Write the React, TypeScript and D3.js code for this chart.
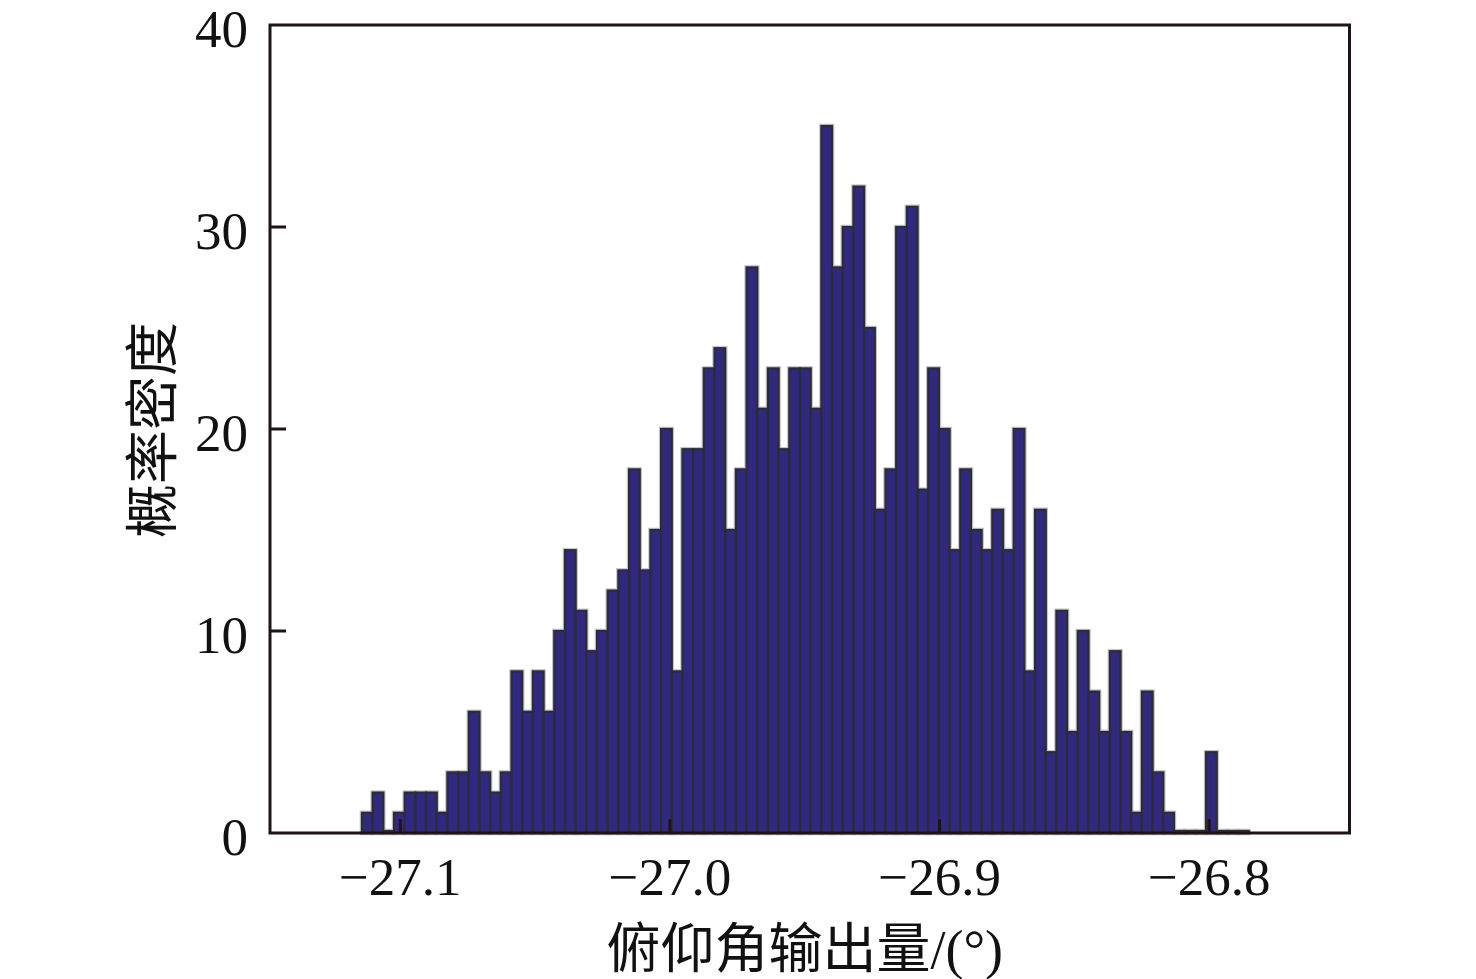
import * as d3 from "d3";

// histogram counts per bin, left to right
const counts = [
  1, 2, 0, 1, 2, 2, 2, 1, 3, 3,
  6, 3, 2, 3, 8, 6, 8, 6, 10, 14,
  11, 9, 10, 12, 13, 18, 13, 15, 20, 8,
  19, 19, 23, 24, 15, 18, 28, 21, 23, 19,
  23, 23, 21, 35, 28, 30, 32, 25, 16, 18,
  30, 31, 17, 23, 20, 14, 18, 15, 14, 16,
  14, 20, 8, 16, 4, 11, 5, 10, 7, 5,
  9, 5, 1, 7, 3, 1, 0, 0, 0, 4,
  0, 0, 0,
];
const binStart = -27.1142;
const binWidth = 0.003962;

const xTicks = [-27.1, -27.0, -26.9, -26.8];
const yTicks = [0, 10, 20, 30, 40];
const xTitle = "俯仰角输出量/(°)";
const yTitle = "概率密度";

const W = 1476;
const H = 979;
const plot = { left: 270, right: 1349.5, top: 25, bottom: 833 };
const serif = '"Liberation Serif", "Times New Roman", serif';
const cjk = '"Liberation Serif", "Noto Sans CJK SC", serif';

export default function App() {
  const x = d3.scaleLinear().domain([-27.1483, -26.748]).range([plot.left, plot.right]);
  const y = d3.scaleLinear().domain([0, 40]).range([plot.bottom, plot.top]);

  const bins = counts.map((c, i) => ({
    x0: binStart + i * binWidth,
    x1: binStart + (i + 1) * binWidth,
    c,
  }));

  const fmt = (v: number) => v.toFixed(1).replace("-", "\u2212");

  const barProps = (b: { x0: number; x1: number; c: number }) => ({
    x: x(b.x0),
    y: y(b.c) - (b.c === 0 ? 2 : 0),
    width: x(b.x1) - x(b.x0),
    height: y(0) - y(b.c) + (b.c === 0 ? 2 : 0),
  });

  return (
    <div style={{ position: "absolute", left: 0, top: 0 }}>
      <svg width={W} height={H} style={{ display: "block", background: "#fff" }}>
        {/* light halo under the bar outlines */}
        {bins.map((b, i) => (
          <rect key={`h${i}`} {...barProps(b)} fill="none" stroke="#c4c4c8" strokeWidth={4.5} />
        ))}
        {bins.map((b, i) => (
          <rect
            key={i}
            {...barProps(b)}
            fill="#30297f"
            stroke="#2c2c36"
            strokeWidth={2.2}
          />
        ))}

        {/* frame */}
        <rect
          x={plot.left}
          y={plot.top}
          width={plot.right - plot.left}
          height={plot.bottom - plot.top}
          fill="none"
          stroke="#1e1414"
          strokeWidth={3}
        />

        {yTicks.map((t) => (
          <g key={t}>
            {t > 0 && t < 40 && (
              <line x1={plot.left} x2={plot.left + 16} y1={y(t)} y2={y(t)} stroke="#1e1414" strokeWidth={3} />
            )}
            <text
              x={248}
              y={y(t) + 22}
              textAnchor="end"
              fontFamily={serif}
              fontSize={53}
              fill="#111"
            >
              {t}
            </text>
          </g>
        ))}

        {xTicks.map((t) => (
          <g key={t}>
            <line x1={x(t)} x2={x(t)} y1={plot.bottom} y2={plot.bottom - 14} stroke="#1e1414" strokeWidth={3} />
            <text
              x={x(t)}
              y={895}
              textAnchor="middle"
              fontFamily={serif}
              fontSize={53}
              fill="#111"
            >
              {fmt(t)}
            </text>
          </g>
        ))}

        <text
          x={(plot.left + plot.right) / 2 - 5}
          y={968}
          textAnchor="middle"
          fontFamily={cjk}
          fontSize={54}
          fill="#111"
        >
          {xTitle}
        </text>
        <text
          transform={`translate(172, ${430}) rotate(-90)`}
          textAnchor="middle"
          fontFamily={cjk}
          fontSize={54}
          fill="#111"
        >
          {yTitle}
        </text>
      </svg>
    </div>
  );
}
